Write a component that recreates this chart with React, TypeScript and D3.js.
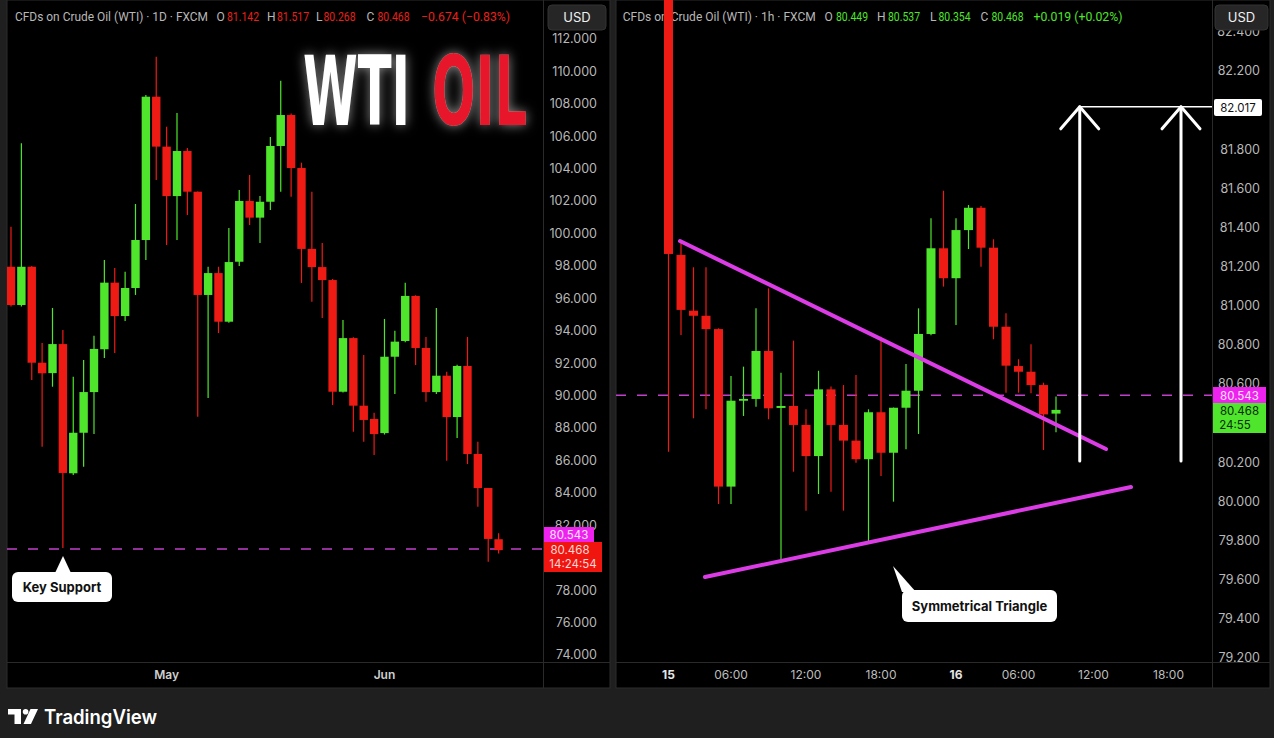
import React from "react";
import * as d3 from "d3";

// ---------- Daily (1D) candles ----------
const dailyOpen = [97.95, 95.59, 97.95, 92.03, 91.39, 93.18, 85.21, 87.71, 90.22, 92.86, 96.97, 94.91, 96.64, 99.6, 108.44, 105.36, 102.31, 105.09, 102.58, 96.21, 97.56, 94.56, 98.26, 102.01, 100.98, 101.96, 105.4, 107.31, 104.04, 99.05, 97.93, 97.13, 90.24, 93.55, 89.38, 88.56, 87.69, 92.4, 93.37, 96.15, 92.94, 90.22, 91.23, 88.68, 91.83, 86.4, 84.3, 81.142];
const dailyHigh = [100.42, 105.57, 98.0, 93.25, 95.41, 94.05, 91.17, 92.2, 93.7, 98.37, 97.87, 97.64, 101.82, 108.55, 110.91, 106.59, 107.44, 105.28, 102.6, 97.95, 97.95, 100.34, 102.68, 103.61, 102.31, 105.95, 109.43, 107.4, 104.37, 102.58, 99.42, 97.2, 94.66, 93.6, 92.51, 88.95, 94.73, 94.0, 96.97, 96.2, 93.62, 95.41, 91.48, 91.9, 93.62, 87.16, 84.3, 81.517];
const dailyLow = [95.5, 95.5, 90.96, 86.85, 90.55, 80.6, 85.1, 85.62, 87.63, 92.32, 92.63, 94.6, 96.21, 98.37, 103.3, 99.29, 99.6, 101.14, 88.7, 89.85, 93.86, 94.5, 98.0, 100.53, 99.42, 101.45, 102.58, 102.27, 96.95, 95.79, 94.79, 89.42, 90.2, 87.77, 87.16, 86.34, 87.6, 90.1, 93.3, 91.89, 89.63, 90.1, 85.99, 87.39, 85.78, 83.15, 79.76, 80.268];
const dailyClose = [95.59, 97.95, 92.03, 91.38, 93.18, 85.23, 87.71, 90.22, 92.88, 96.97, 94.91, 96.64, 99.6, 108.44, 105.36, 102.31, 105.09, 102.58, 96.21, 97.56, 94.56, 98.24, 102.01, 100.98, 101.96, 105.4, 107.31, 104.04, 99.05, 97.93, 97.13, 90.24, 93.55, 89.38, 88.5, 87.63, 92.4, 93.33, 96.15, 92.94, 90.22, 91.23, 88.68, 91.83, 86.4, 84.3, 81.16, 80.468];
const dailyTimeLabels = ["May", "Jun"];
const dailyTimeIndex = [15, 36];
const dailyPriceTicks = [112, 110, 108, 106, 104, 102, 100, 98, 96, 94, 92, 90, 88, 86, 84, 82, 80, 78, 76, 74];

// ---------- Hourly (1h) candles ----------
const hourlyOpen = [82.75, 81.26, 80.975, 80.949, 80.881, 80.076, 80.515, 80.524, 80.769, 80.478, 80.488, 80.391, 80.232, 80.573, 80.391, 80.311, 80.216, 80.456, 80.249, 80.479, 80.566, 80.856, 81.294, 81.141, 81.387, 81.501, 81.297, 80.893, 80.692, 80.663, 80.595, 80.449];
const hourlyHigh = [82.9, 81.328, 81.197, 81.197, 80.885, 80.641, 80.689, 80.987, 81.089, 80.658, 80.822, 80.471, 80.668, 80.587, 80.595, 80.646, 80.471, 80.842, 80.48, 80.703, 80.987, 81.447, 81.588, 81.447, 81.515, 81.51, 81.34, 80.962, 80.727, 80.803, 80.607, 80.537];
const hourlyLow = [80.254, 80.851, 80.425, 80.471, 79.987, 79.987, 80.437, 80.484, 80.42, 79.687, 80.152, 79.953, 80.038, 80.05, 79.953, 80.198, 79.786, 80.13, 79.999, 80.267, 80.345, 80.85, 81.098, 80.902, 81.29, 81.2, 80.829, 80.556, 80.556, 80.553, 80.263, 80.354];
const hourlyClose = [81.265, 80.979, 80.949, 80.881, 80.076, 80.515, 80.524, 80.769, 80.476, 80.488, 80.391, 80.232, 80.573, 80.391, 80.311, 80.216, 80.456, 80.249, 80.479, 80.566, 80.856, 81.294, 81.141, 81.387, 81.501, 81.297, 80.893, 80.694, 80.663, 80.595, 80.445, 80.468];
const hourlyTimeLabels = ["15", "06:00", "12:00", "18:00", "16", "06:00", "12:00", "18:00"];
const hourlyTimeIndex = [0, 5, 11, 17, 23, 28, 34, 40];
const hourlyTimeBold = [true, false, false, false, true, false, false, false];
const hourlyPriceTicks = [82.4, 82.2, 82.0, 81.8, 81.6, 81.4, 81.2, 81.0, 80.8, 80.6, 80.4, 80.2, 80.0, 79.8, 79.6, 79.4, 79.2];

// ---------- Levels / drawings ----------
const keyLevel = 80.543;
const lastPrice = 80.468;
const targetLevel = 82.017;
const triangleUpper = [[0.92, 81.331], [35, 80.268]];
const triangleLower = [[2.92, 79.614], [37, 80.074]];
const arrowIndex = [32.9, 41];
const arrowBase = 80.207;

const GREEN = "#4fe52d";
const RED = "#ee1b14";
const MAGENTA = "#dc3ce6";
const AXIS_TXT = "#b8b8b8";
const FONT = "Inter, 'Noto Sans', Roboto, sans-serif";
const HFONT = "Roboto, 'Noto Sans', sans-serif";

function Candles({ open, high, low, close, x, y, bw }: any) {
  return (
    <g>
      {open.map((o: number, i: number) => {
        const c = close[i];
        const col = c >= o ? GREEN : RED;
        const cx = x(i);
        const top = y(Math.max(o, c));
        const bot = y(Math.min(o, c));
        return (
          <g key={i}>
            <line x1={cx} x2={cx} y1={y(high[i])} y2={y(low[i])} stroke={col} strokeWidth={1.2} />
            <rect x={cx - bw / 2} y={top} width={bw} height={Math.max(1.8, bot - top)} fill={col} />
          </g>
        );
      })}
    </g>
  );
}

function Header({ x0, label, values, color, change, changeX }: any) {
  return (
    <g fontFamily={HFONT} fontSize={12}>
      <text x={x0} y={20.5} fill={AXIS_TXT} textLength={193} lengthAdjust="spacingAndGlyphs">{label}</text>
      {values.map((v: any, i: number) => (
        <g key={i}>
          <text x={v.lx} y={20.5} fill={AXIS_TXT}>{v.l}</text>
          <text x={v.vx} y={20.5} fill={color} textLength={32} lengthAdjust="spacingAndGlyphs">{v.v}</text>
        </g>
      ))}
      <text x={changeX} y={20.5} fill={color} textLength={89} lengthAdjust="spacingAndGlyphs">{change}</text>
    </g>
  );
}

// hide a tick label when it sits fully behind one of the price-label boxes
const hiddenBy = (yy: number, boxes: number[][]) => boxes.some(([a, b]) => yy - 5 >= a - 1 && yy + 5 <= b + 1);

export default function App() {
  // Left (daily) scales
  const xL = d3.scaleLinear().domain([0, 47]).range([11, 498.6]);
  const yL = d3.scaleLinear().domain([74, 112]).range([655, 39]);
  // Right (hourly) scales
  const xR = d3.scaleLinear().domain([0, 31]).range([668.5, 1056]);
  const yR = d3.scaleLinear().domain([79.2, 82.2]).range([658, 71]);

  const fmt = d3.format(".3f");

  const leftBoxes = [[527, 542], [542, 572]];
  const rightBoxes = [[99, 116], [387, 403], [403, 433]];

  const leftVals = [
    { l: "O", lx: 216.5, v: fmt(dailyOpen[47]), vx: 227 },
    { l: "H", lx: 267, v: fmt(dailyHigh[47]), vx: 277 },
    { l: "L", lx: 316, v: fmt(dailyLow[47]), vx: 323.5 },
    { l: "C", lx: 366.5, v: fmt(dailyClose[47]), vx: 377.5 },
  ];
  const rightVals = [
    { l: "O", lx: 824.5, v: fmt(hourlyOpen[31]), vx: 836 },
    { l: "H", lx: 877, v: fmt(hourlyHigh[31]), vx: 888 },
    { l: "L", lx: 930, v: fmt(hourlyLow[31]), vx: 938.5 },
    { l: "C", lx: 980.5, v: fmt(hourlyClose[31]), vx: 991.5 },
  ];

  const line = d3.line<number[]>().x((d) => xR(d[0])).y((d) => yR(d[1]));

  return (
    <div style={{ position: "fixed", left: 0, top: 0 }}>
      <svg width={1274} height={738} style={{ display: "block" }}>
        <defs>
          <clipPath id="clipL"><rect x={7} y={0} width={536} height={662} /></clipPath>
          <clipPath id="clipR"><rect x={616} y={0} width={596} height={662} /></clipPath>
          <filter id="glow" x="-40%" y="-60%" width="180%" height="220%">
            <feGaussianBlur in="SourceAlpha" stdDeviation="6" result="b" />
            <feFlood floodColor="#ffffff" floodOpacity="0.55" />
            <feComposite in2="b" operator="in" result="g" />
            <feMerge>
              <feMergeNode in="g" />
              <feMergeNode in="SourceGraphic" />
            </feMerge>
          </filter>
        </defs>

        {/* background */}
        <rect x={0} y={0} width={1274} height={738} fill="#1f1f1f" />
        <rect x={7} y={0} width={603} height={688} fill="#000" stroke="#2c2c2c" />
        <rect x={616} y={0} width={654} height={688} fill="#000" stroke="#2c2c2c" />

        {/* separators */}
        <line x1={543.5} x2={543.5} y1={0} y2={688} stroke="#2a2a2a" />
        <line x1={7} x2={610} y1={662.5} y2={662.5} stroke="#2a2a2a" />
        <line x1={1212.5} x2={1212.5} y1={0} y2={688} stroke="#2a2a2a" />
        <line x1={616} x2={1270} y1={662.5} y2={662.5} stroke="#2a2a2a" />

        {/* ---------- LEFT PANEL ---------- */}
        <Header x0={15} label="CFDs on Crude Oil (WTI) · 1D · FXCM" values={leftVals} color="#e8201a"
          change="−0.674 (−0.83%)" changeX={421} />

        {/* price axis */}
        <g fontFamily={FONT} fontSize={12.5} fill={AXIS_TXT} textAnchor="end">
          {dailyPriceTicks.filter((t) => !hiddenBy(yL(t), leftBoxes)).map((t) => (
            <text key={t} x={597} y={yL(t)} dy="0.35em">{fmt(t)}</text>
          ))}
        </g>
        {/* time axis */}
        <g fontFamily={FONT} fontSize={12} fill="#cfcfcf" fontWeight={600} textAnchor="middle">
          {dailyTimeLabels.map((t, i) => (
            <text key={t} x={xL(dailyTimeIndex[i])} y={679}>{t}</text>
          ))}
        </g>

        {/* WTI OIL title */}
        <g filter="url(#glow)" fontFamily="'Liberation Sans Narrow', 'DejaVu Sans Condensed', sans-serif" fontWeight="bold" fontSize={70}>
          <text transform="translate(303,125) scale(1,1.37)" x={0} y={0} fill="#ffffff" textLength={107} lengthAdjust="spacingAndGlyphs">WTI</text>
          <text transform="translate(432,125) scale(1,1.37)" x={0} y={0} fill="#e8192c" textLength={95} lengthAdjust="spacingAndGlyphs">OIL</text>
        </g>

        <g clipPath="url(#clipL)">
          <line x1={7} x2={543} y1={yL(keyLevel)} y2={yL(keyLevel)} stroke="#c23fcb" strokeWidth={1.6} strokeDasharray="10 11" />
          <Candles open={dailyOpen} high={dailyHigh} low={dailyLow} close={dailyClose} x={xL} y={yL} bw={8.4} />
        </g>

        {/* Key Support callout */}
        <g>
          <polygon points="55,573 63,556 71,573" fill="#fff" />
          <rect x={12} y={572} width={100} height={30} rx={6} fill="#fff" />
          <text x={62} y={592} fontFamily={FONT} fontSize={13} fontWeight={700} fill="#111" textAnchor="middle">Key Support</text>
        </g>

        {/* left price labels */}
        <g fontFamily={FONT} fontSize={11.5} textAnchor="middle">
          <rect x={544} y={527} width={50} height={15} fill="#ee22ee" />
          <text x={569} y={538.5} fill="#ffe6ff">{fmt(keyLevel)}</text>
          <rect x={544} y={542} width={58} height={30} fill="#f0160f" />
          <text x={570} y={553.5} fill="#ffd8d8">{fmt(lastPrice)}</text>
          <text x={573} y={568} fill="#ffd8d8">14:24:54</text>
        </g>

        {/* USD box left */}
        <rect x={548} y={5} width={58} height={25} rx={4} fill="#262626" stroke="#333" />
        <text x={577} y={22} fontFamily={FONT} fontSize={13} fill="#f0f0f0" textAnchor="middle">USD</text>

        {/* ---------- RIGHT PANEL ---------- */}
        <Header x0={622.7} label="CFDs on Crude Oil (WTI) · 1h · FXCM" values={rightVals} color="#4fe52d"
          change="+0.019 (+0.02%)" changeX={1033.5} />

        <g fontFamily={FONT} fontSize={12.5} fill={AXIS_TXT} textAnchor="end">
          {hourlyPriceTicks.filter((t) => !hiddenBy(yR(t), rightBoxes)).map((t) => (
            <text key={t} x={1260} y={yR(t)} dy="0.35em">{fmt(t)}</text>
          ))}
        </g>
        <g fontFamily={FONT} fontSize={12} textAnchor="middle">
          {hourlyTimeLabels.map((t, i) => (
            <text key={i} x={xR(hourlyTimeIndex[i])} y={679}
              fill={hourlyTimeBold[i] ? "#e6e6e6" : "#bdbdbd"} fontWeight={hourlyTimeBold[i] ? 700 : 400}>{t}</text>
          ))}
        </g>

        <g clipPath="url(#clipR)">
          <line x1={616} x2={1212} y1={yR(keyLevel)} y2={yR(keyLevel)} stroke="#c23fcb" strokeWidth={1.6} strokeDasharray="10 11" />
          <Candles open={hourlyOpen} high={hourlyHigh} low={hourlyLow} close={hourlyClose} x={xR} y={yR} bw={9} />
          <path d={line(triangleUpper as any) || ""} stroke={MAGENTA} strokeWidth={4} strokeLinecap="round" fill="none" />
          <path d={line(triangleLower as any) || ""} stroke={MAGENTA} strokeWidth={4} strokeLinecap="round" fill="none" />
          {/* target arrows */}
          <line x1={xR(arrowIndex[0])} x2={1212} y1={yR(targetLevel)} y2={yR(targetLevel)} stroke="#fff" strokeWidth={1.5} />
          {arrowIndex.map((ai, k) => {
            const ax = xR(ai);
            const ty = yR(targetLevel);
            return (
              <g key={k} stroke="#fff" strokeWidth={3} fill="none" strokeLinecap="round" strokeLinejoin="round">
                <line x1={ax} x2={ax} y1={yR(arrowBase)} y2={ty} />
                <polyline points={`${ax - 19},${ty + 22} ${ax},${ty} ${ax + 19},${ty + 22}`} />
              </g>
            );
          })}
        </g>

        {/* Symmetrical Triangle callout */}
        <g>
          <polygon points="893,566 902,592 916,592" fill="#fff" />
          <rect x={902} y={590} width={155} height={32} rx={6} fill="#fff" />
          <text x={979.5} y={611} fontFamily={FONT} fontSize={13} fontWeight={700} fill="#111" textAnchor="middle">Symmetrical Triangle</text>
        </g>

        {/* right price labels */}
        <g fontFamily={FONT} fontSize={11.5} textAnchor="middle">
          <rect x={1214} y={99} width={48} height={17} fill="#fff" rx={2} />
          <text x={1238} y={111.5} fill="#111">{fmt(targetLevel)}</text>
          <rect x={1213} y={387} width={53} height={16} fill="#ee22ee" />
          <text x={1239.5} y={399.5} fill="#ffe6ff">{fmt(keyLevel)}</text>
          <rect x={1213} y={403} width={53} height={30} fill="#4fe52d" />
          <text x={1239.5} y={414.5} fill="#0b2a08">{fmt(lastPrice)}</text>
          <text x={1235} y={429} fill="#0b2a08">24:55</text>
        </g>

        {/* USD box right */}
        <rect x={1215} y={5} width={53} height={25} rx={4} fill="#262626" stroke="#333" />
        <text x={1241.5} y={22} fontFamily={FONT} fontSize={13} fill="#f0f0f0" textAnchor="middle">USD</text>

        {/* TradingView logo */}
        <g fill="#ffffff">
          <path d="M8,709 H21 V724 H14.5 V714.5 H8 Z" />
          <circle cx={25.6} cy={711.8} r={2.8} />
          <path d="M30.5,709 H38 L31,724 H23.5 Z" />
          <text x={44} y={723.5} fontFamily={FONT} fontSize={19.5} fontWeight={600} textLength={113} lengthAdjust="spacingAndGlyphs">TradingView</text>
        </g>
      </svg>
    </div>
  );
}
